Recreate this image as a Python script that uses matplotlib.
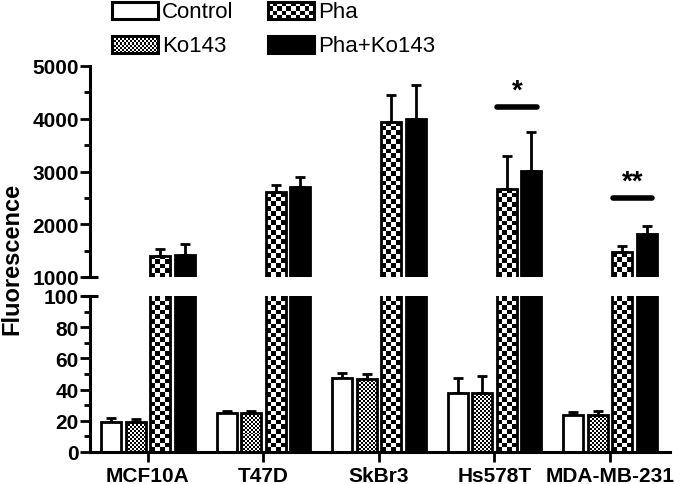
import numpy as np
import matplotlib
matplotlib.use("Agg")
from matplotlib import pyplot as plt
from matplotlib.patches import Rectangle

plt.rcParams['font.family'] = ['Liberation Sans', 'DejaVu Sans']

cell_lines = ["MCF10A", "T47D", "SkBr3", "Hs578T", "MDA-MB-231"]
groups = ["Control", "Ko143", "Pha", "Pha+Ko143"]

control = [19, 25, 47.5, 38, 23.5]
control_err = [2.5, 1.5, 3, 9.5, 2]
ko143 = [19, 25, 47, 38, 24]
ko143_err = [2, 1, 3, 11, 2]
pha = [1400, 2610, 3940, 2670, 1470]
pha_err = [130, 135, 510, 625, 115]
pha_ko = [1420, 2705, 3995, 3010, 1815]
pha_ko_err = [205, 190, 645, 740, 150]

series = [control, ko143, pha, pha_ko]
errors = [control_err, ko143_err, pha_err, pha_ko_err]
# fill style per series: None = plain, number = checker cell size in px
fills = [("white", None), ("white", 2.0), ("white", 4.6), ("black", None)]

sig_pairs = [(3, "*", 4230), (4, "**", 2500)]

W, H = 685, 485
fig = plt.figure(figsize=(W / 100, H / 100), dpi=100)

ax_top = fig.add_axes([90 / W, 1 - 278 / H, 580 / W, 211 / H])
ax_bot = fig.add_axes([90 / W, 1 - 453 / H, 580 / W, 156 / H])

x = np.arange(len(cell_lines))
step = 0.212
width = 0.172
offsets = (np.arange(4) - 1.5) * step
xlim = (-0.502, 4.52)

ax_top.set_xlim(*xlim)
ax_top.set_ylim(1000, 5000)
ax_bot.set_xlim(*xlim)
ax_bot.set_ylim(0, 100)


def checker(ax, patch, cell, x0, y0, x1, y1):
    ax.set_autoscale_on(False)
    p0 = ax.transData.transform((x0, y0))
    p1 = ax.transData.transform((x1, y1))
    nx = max(1, int(round(abs(p1[0] - p0[0]) / cell)))
    ny = max(1, int(round(abs(p1[1] - p0[1]) / cell)))
    grid = np.add.outer(np.arange(ny), np.arange(nx)) % 2
    im = ax.imshow(grid, cmap="gray", extent=(x0, x1, y0, y1), aspect="auto",
                   interpolation="nearest", origin="lower", zorder=1.5, vmin=0, vmax=1)
    im.set_clip_path(patch)


for ax in (ax_top, ax_bot):
    lo, hi = ax.get_ylim()
    for i, (vals, errs, (fc, cell)) in enumerate(zip(series, errors, fills)):
        bars = ax.bar(x + offsets[i], vals, width, color=fc if cell is None else "none",
                      edgecolor="black", linewidth=2.0, zorder=2)
        ax.errorbar(x + offsets[i], vals, yerr=[np.zeros(len(vals)), errs], fmt="none",
                    ecolor="black", elinewidth=2.0, capsize=3.8, capthick=2.0, zorder=1.8)
        if cell is not None:
            for b in bars:
                bx = b.get_x()
                top = min(b.get_height(), hi)
                if top > lo:
                    checker(ax, b, cell, bx, lo, bx + b.get_width(), top)
    ax.spines[["top", "right"]].set_visible(False)
    ax.spines["left"].set_linewidth(2.2)
    ax.tick_params(axis="y", which="major", length=7, width=2.0, labelsize=15, pad=1)
    ax.tick_params(axis="y", which="minor", length=4, width=2.0)

ax_top.spines["bottom"].set_visible(False)
ax_top.set_xticks([])
ax_top.set_yticks([1000, 2000, 3000, 4000, 5000])
ax_top.set_yticks(np.arange(1500, 5000, 1000), minor=True)
ax_top.set_yticklabels(["1000", "2000", "3000", "4000", "5000"], fontweight="bold")

ax_bot.spines["bottom"].set_linewidth(2.2)
ax_bot.set_yticks(np.arange(0, 101, 20))
ax_bot.set_yticks(np.arange(10, 100, 20), minor=True)
ax_bot.set_yticklabels([str(v) for v in range(0, 101, 20)], fontweight="bold")
ax_bot.set_xticks(x)
ax_bot.set_xticklabels(cell_lines, fontsize=15, fontweight="bold")
ax_bot.tick_params(axis="x", length=7, width=2.0, pad=3)

# axis break caps
ax_top.plot([-0.014, 0.014], [1000, 1000], color="black", lw=2.2,
            transform=ax_top.get_yaxis_transform(), clip_on=False, solid_capstyle="butt")
ax_bot.plot([-0.014, 0.014], [100, 100], color="black", lw=2.2,
            transform=ax_bot.get_yaxis_transform(), clip_on=False, solid_capstyle="butt")

# significance marks
for gi, mark, yv in sig_pairs:
    x0 = x[gi] + offsets[2] - 0.08
    x1 = x[gi] + offsets[3] + 0.05
    ax_top.plot([x0, x1], [yv, yv], color="black", lw=4, solid_capstyle="round", zorder=3)
    ax_top.text((x0 + x1) / 2, yv + 60, mark, ha="center", va="bottom",
                fontsize=20, fontweight="bold")

fig.text(12 / W, 1 - 259 / H, "Fluorescence", rotation=90, ha="center", va="center",
         fontsize=17, fontweight="bold")

# legend
ax_leg = fig.add_axes([0, 0, 1, 1], zorder=5)
ax_leg.set_xlim(0, W)
ax_leg.set_ylim(H, 0)
ax_leg.axis("off")
leg_pos = {"Control": (112, 3), "Pha": (268, 3), "Ko143": (112, 37), "Pha+Ko143": (268, 37)}
for name, (fc, cell) in zip(groups, fills):
    lx, ly = leg_pos[name]
    r = Rectangle((lx, ly), 46, 17, facecolor=fc if cell is None else "none",
                  edgecolor="black", linewidth=2.2, zorder=2)
    ax_leg.add_patch(r)
    if cell is not None:
        checker(ax_leg, r, cell, lx, ly + 17, lx + 46, ly)
    ax_leg.text(lx + 50, ly + 9, name, ha="left", va="center", fontsize=16)

fig.savefig("out.png", dpi=100)
